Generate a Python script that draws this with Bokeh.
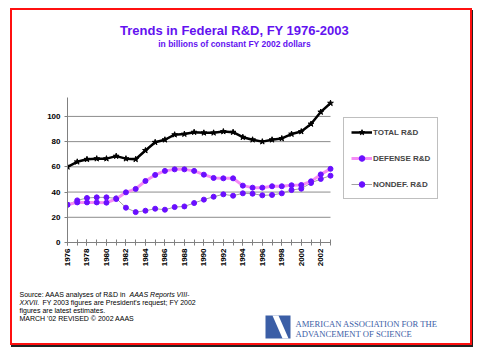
import math
from bokeh.plotting import figure
from bokeh.layouts import column
from bokeh.models import (Label, BoxAnnotation, PolyAnnotation, Legend, LegendItem,
                          FixedTicker, Range1d)
from bokeh.embed import file_html
from bokeh.resources import INLINE

years = list(range(1976, 2004))
total_rd = [60, 64, 66, 66.5, 66.5, 68.5, 66.5, 66, 73, 79.5, 81.5, 85.5, 86, 87.5,
            87, 87, 88, 87.5, 83.5, 81.5, 80, 81.5, 82.5, 86, 88, 94, 103.5, 110.5]
defense_rd = [30, 31.8, 31.8, 31.8, 31.6, 34.5, 39.8, 42.5, 48.8, 53.6, 56.8, 58, 58, 56.8,
              53.8, 51.2, 50.9, 50.9, 45.1, 43.5, 43.5, 44.6, 44.6, 45.4, 45.6, 48.5, 54, 58.4]
nondef_rd = [30, 33.4, 35.3, 35.8, 35.8, 35, 27.6, 24.1, 25.2, 26.8, 26, 28.1, 28.6, 31.3,
             34, 36.3, 38.2, 37.1, 39, 38.7, 37.4, 37.7, 39, 41.6, 42.7, 47.2, 50.4, 53]
series_names = ["TOTAL R&D", "DEFENSE R&D", "NONDEF. R&D"]
y_ticks = [0, 20, 40, 60, 80, 100]
x_label_years = list(range(1976, 2004, 2))

FONT = "Liberation Sans"
TITLE_C = "#6312F0"
PURPLE = "#6A0FFF"


def no_align(f):
    if "frame_align" in f.properties():
        f.frame_align = False


def blank(w, h):
    f = figure(width=w, height=h, output_backend="svg", toolbar_location=None,
               x_range=Range1d(0, 1), y_range=Range1d(0, 1),
               x_axis_location=None, y_axis_location=None, min_border=0)
    f.grid.visible = False
    f.outline_line_color = None
    f.background_fill_color = "white"
    f.border_fill_color = "white"
    no_align(f)
    return f


def lab(f, x, y, text, size, style="normal", color="black", align="left", font=FONT):
    f.add_layout(Label(x=x, y=y, x_units="screen", y_units="screen", text=text,
                       text_font=font, text_font_size=size, text_font_style=style,
                       text_color=color, text_align=align, text_baseline="middle"))


# ---- header ----
head = blank(458, 80)
lab(head, 222, 60, "Trends in Federal R&D, FY 1976-2003", "13px", "bold", TITLE_C, "center")
lab(head, 222, 47, "in billions of constant FY 2002 dollars", "8.5px", "bold", TITLE_C, "center")

# ---- chart (frame widened to the right so the legend sits inside it) ----
x_start, x_end = years[0], years[-1]
frame_w, data_w = 403, 263          # frame width vs width used by the data
p = figure(width=458, height=185, output_backend="svg", toolbar_location=None,
           x_range=Range1d(x_start, x_start + (x_end - x_start) * frame_w / data_w),
           y_range=Range1d(0, 115),
           min_border_left=55, min_border_right=0, min_border_top=7, min_border_bottom=33)
no_align(p)
p.outline_line_color = None
p.background_fill_color = "white"
p.border_fill_color = "white"
p.grid.visible = False
p.segment(x0=[x_start] * (len(y_ticks) - 1), x1=[x_end] * (len(y_ticks) - 1),
          y0=y_ticks[1:], y1=y_ticks[1:], line_color="#8c8c8c", line_width=1, level="underlay")
p.yaxis.ticker = FixedTicker(ticks=y_ticks)
p.xaxis.ticker = FixedTicker(ticks=x_label_years, minor_ticks=years)
p.xaxis.bounds = (x_start, x_end)
for ax in (p.xaxis, p.yaxis):
    ax.axis_line_color = "#808080"
    ax.major_tick_line_color = "#808080"
    ax.minor_tick_line_color = "#808080"
    ax.major_label_text_font = FONT
    ax.major_label_text_font_style = "bold"
    ax.major_label_text_font_size = "8px"
    ax.major_label_text_color = "black"
p.xaxis.major_tick_in = 3
p.xaxis.major_tick_out = 3
p.xaxis.minor_tick_in = 3
p.xaxis.minor_tick_out = 3
p.xaxis.major_label_orientation = math.pi / 2
p.xaxis.major_label_standoff = 3
p.yaxis.major_tick_in = 0
p.yaxis.major_tick_out = 3
p.yaxis.minor_tick_line_color = None
p.yaxis.major_label_standoff = 4

ln = [p.line(years, nondef_rd, line_color="#a0a0a0", line_width=1),
      p.scatter(years, nondef_rd, marker="circle", size=5, fill_color=PURPLE, line_color=PURPLE)]
ld = [p.line(years, defense_rd, line_color="#f58cf5", line_width=3),
      p.scatter(years, defense_rd, marker="circle", size=5, fill_color=PURPLE, line_color=PURPLE)]
lt = [p.line(years, total_rd, line_color="black", line_width=2.5),
      p.scatter(years, total_rd, marker="star", size=6, fill_color="black", line_color="black")]

legend = Legend(items=[LegendItem(label=series_names[0], renderers=lt),
                       LegendItem(label=series_names[1], renderers=ld),
                       LegendItem(label=series_names[2], renderers=ln)],
                location=(276, 43))
legend.label_text_font = FONT
legend.label_text_font_style = "bold"
legend.label_text_font_size = "8px"
legend.glyph_width = 21
legend.glyph_height = 14
legend.label_height = 14
legend.spacing = 12
legend.padding = 7
legend.margin = 0
legend.label_standoff = 1
legend.border_line_color = "#808080"
legend.border_line_width = 1
p.add_layout(legend, "center")

# ---- footer ----
foot = blank(458, 68)
lab(foot, 7, 49, "Source: AAAS analyses of R&D in ", "7px")
lab(foot, 117, 49, "AAAS Reports VIII-", "7px", "italic")
lab(foot, 7, 41, "XXVII.", "7px", "italic")
lab(foot, 30, 41, "FY 2003 figures are President's request; FY 2002", "7px")
lab(foot, 7, 33, "figures are latest estimates.", "7px")
lab(foot, 7, 25, "MARCH '02 REVISED \u00a9 2002 AAAS", "7px")
foot.add_layout(BoxAnnotation(left=253, right=278, top=28, bottom=5,
                              left_units="screen", right_units="screen",
                              top_units="screen", bottom_units="screen",
                              fill_color="#3b5ea6", fill_alpha=1, line_color=None))
foot.add_layout(PolyAnnotation(xs=[260, 266, 276, 270], ys=[28, 28, 5, 5],
                               xs_units="screen", ys_units="screen",
                               fill_color="white", fill_alpha=1, line_color=None))
lab(foot, 283, 20, "AMERICAN ASSOCIATION FOR THE", "8.6px", color="#3b5ea6", font="Liberation Serif")
lab(foot, 283, 10, "ADVANCEMENT OF SCIENCE", "8.6px", color="#3b5ea6", font="Liberation Serif")

page = column(head, p, foot, margin=(8, 0, 0, 10),
              styles={"border": "2px solid #ff1010", "box-shadow": "1px 2px 0px #222"})

open("out.html", "w").write(file_html(page, INLINE))
